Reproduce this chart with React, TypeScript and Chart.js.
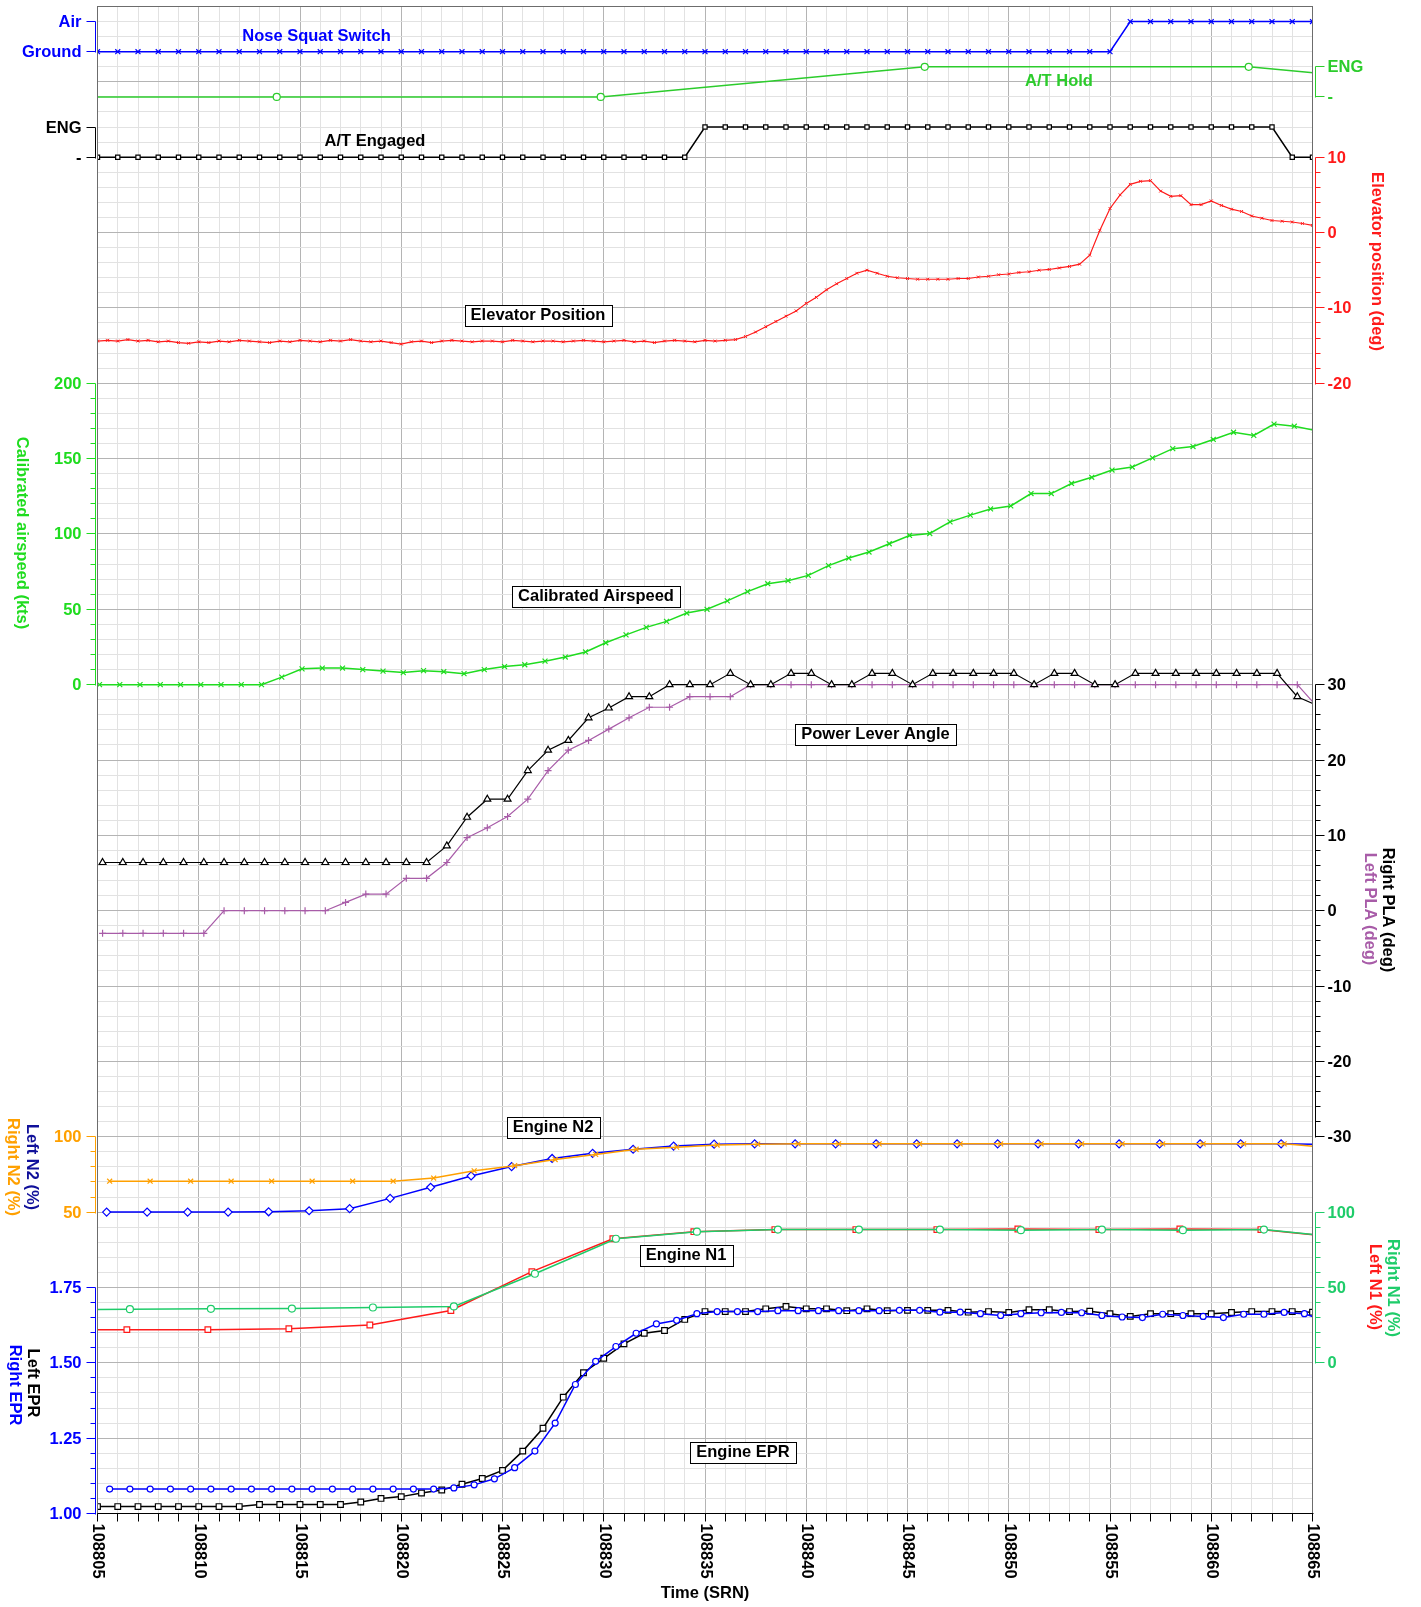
import React, { useEffect, useRef } from 'react';
import { Chart, registerables } from 'chart.js';

Chart.register(...registerables);

// ---------------- time axis ----------------
const T_START = 108805;
const T_END = 108865;
const X_TICK_LABELS = [108805, 108810, 108815, 108820, 108825, 108830, 108835, 108840, 108845, 108850, 108855, 108860, 108865];

// ---------------- series values ----------------
// Nose squat switch: 0 = Ground, 1 = Air ; one sample per second from T_START
const NOSE_SQUAT = [
  0, 0, 0, 0, 0, 0, 0, 0, 0, 0,
  0, 0, 0, 0, 0, 0, 0, 0, 0, 0,
  0, 0, 0, 0, 0, 0, 0, 0, 0, 0,
  0, 0, 0, 0, 0, 0, 0, 0, 0, 0,
  0, 0, 0, 0, 0, 0, 0, 0, 0, 0,
  0, 1, 1, 1, 1, 1, 1, 1, 1, 1, 1,
];
// A/T hold: 0 = '-', 1 = ENG ; one sample every 16 s
const AT_HOLD_TIMES = [108797.85, 108813.85, 108829.85, 108845.85, 108861.85, 108877.85];
const AT_HOLD = [0, 0, 0, 1, 1, 0];
// A/T engaged: 0 = '-', 1 = ENG ; one sample per second
const AT_ENGAGED = [
  0, 0, 0, 0, 0, 0, 0, 0, 0, 0,
  0, 0, 0, 0, 0, 0, 0, 0, 0, 0,
  0, 0, 0, 0, 0, 0, 0, 0, 0, 0,
  1, 1, 1, 1, 1, 1, 1, 1, 1, 1,
  1, 1, 1, 1, 1, 1, 1, 1, 1, 1,
  1, 1, 1, 1, 1, 1, 1, 1, 1, 0, 0,
];
// Elevator position (deg), every 0.5 s
const ELEVATOR = [
  -14.4, -14.3, -14.4, -14.2, -14.4, -14.3, -14.5, -14.4, -14.6, -14.7,
  -14.5, -14.6, -14.4, -14.5, -14.3, -14.4, -14.5, -14.6, -14.4, -14.5,
  -14.3, -14.4, -14.5, -14.3, -14.4, -14.2, -14.4, -14.5, -14.4, -14.6,
  -14.8, -14.5, -14.4, -14.6, -14.4, -14.3, -14.4, -14.5, -14.4, -14.4,
  -14.5, -14.3, -14.4, -14.5, -14.4, -14.4, -14.5, -14.4, -14.3, -14.4,
  -14.5, -14.4, -14.3, -14.5, -14.4, -14.6, -14.4, -14.3, -14.4, -14.5,
  -14.3, -14.4, -14.3, -14.2, -13.8, -13.2, -12.5, -11.8, -11.1, -10.4,
  -9.4, -8.6, -7.6, -6.8, -6.1, -5.4, -5.0, -5.4, -5.8, -6.0,
  -6.1, -6.2, -6.2, -6.2, -6.2, -6.1, -6.1, -5.9, -5.8, -5.6,
  -5.5, -5.3, -5.2, -5.0, -4.9, -4.7, -4.5, -4.2, -3.0, 0.3,
  3.2, 5.0, 6.4, 6.8, 6.9, 5.5, 4.8, 4.9, 3.7, 3.7,
  4.2, 3.6, 3.1, 2.8, 2.2, 1.9, 1.6, 1.5, 1.4, 1.2,
  0.95,
];
// Calibrated airspeed (kts), every 1 s
const AIRSPEED = [
  0, 0, 0, 0, 0, 0, 0, 0, 0, 5,
  10.5, 11, 11, 10, 9, 8, 9.3, 8.6, 7.3, 10,
  12, 13.2, 15.6, 18.3, 21.7, 27.8, 33, 38, 42, 47.5,
  50, 55.6, 61.7, 67, 69, 72.5, 79, 84, 88, 93.5,
  99, 100.3, 108, 112.5, 116.6, 118.6, 126.8, 126.8, 133.5, 137.6,
  142.4, 144.4, 150.5, 156.6, 158, 162.7, 167.5, 165.4, 172.9, 171.5,
  168.8,
];
// Power lever angles (deg), every 1 s (sampled 0.25 s after the second)
const PLA_RIGHT = [
  6.4, 6.4, 6.4, 6.4, 6.4, 6.4, 6.4, 6.4, 6.4, 6.4,
  6.4, 6.4, 6.4, 6.4, 6.4, 6.4, 6.4, 8.6, 12.4, 14.8,
  14.8, 18.6, 21.3, 22.6, 25.6, 26.9, 28.4, 28.4, 30, 30,
  30, 31.5, 30, 30, 31.5, 31.5, 30, 30, 31.5, 31.5,
  30, 31.5, 31.5, 31.5, 31.5, 31.5, 30, 31.5, 31.5, 30,
  30, 31.5, 31.5, 31.5, 31.5, 31.5, 31.5, 31.5, 31.5, 28.4,
  27.2,
];
const PLA_LEFT = [
  -3, -3, -3, -3, -3, -3, 0, 0, 0, 0,
  0, 0, 1.1, 2.2, 2.2, 4.3, 4.3, 6.4, 9.7, 11,
  12.5, 14.8, 18.6, 21.3, 22.6, 24.1, 25.6, 27, 27, 28.4,
  28.4, 28.4, 30, 30, 30, 30, 30, 30, 30, 30,
  30, 30, 30, 30, 30, 30, 30, 30, 30, 30,
  30, 30, 30, 30, 30, 30, 30, 30, 30, 30,
  27,
];
// Engine N2 (%), every 2 s
const N2_LEFT = [
  50, 50, 50, 50, 50.2, 50.9, 52.3, 59.1, 66.5, 74,
  80.2, 85.6, 89, 91.7, 93.8, 95.1, 95.3, 95.3, 95.3, 95.3,
  95.3, 95.3, 95.3, 95.3, 95.3, 95.3, 95.3, 95.3, 95.3, 95.3,
  95,
];
const N2_RIGHT = [
  70.5, 70.5, 70.5, 70.5, 70.5, 70.5, 70.5, 70.5, 72.6, 77.4,
  80.8, 84.9, 88.3, 91.7, 93.1, 94.5, 95.1, 95.3, 95.3, 95.3,
  95.3, 95.3, 95.3, 95.3, 95.3, 95.3, 95.3, 95.3, 95.3, 95.3,
  93,
];
// Engine N1 (%), every 4 s
const N1_RIGHT = [35, 35.6, 35.8, 36, 36.7, 37.4, 59.1, 82.3, 87, 88.4, 88.4, 88.4, 88.0, 88.4, 88.0, 88.4, 83];
const N1_LEFT = [22, 22, 22, 22.6, 25.1, 34.7, 60.5, 82.3, 87, 88.4, 88.4, 88.4, 88.8, 88.4, 88.8, 88.4, 83];
// Engine EPR, every 1 s
const EPR_LEFT = [
  1.023, 1.023, 1.023, 1.023, 1.023, 1.023, 1.023, 1.023, 1.030, 1.030,
  1.030, 1.030, 1.030, 1.038, 1.050, 1.056, 1.068, 1.078, 1.097, 1.116,
  1.143, 1.207, 1.283, 1.386, 1.467, 1.515, 1.563, 1.598, 1.607, 1.644,
  1.670, 1.670, 1.670, 1.679, 1.687, 1.679, 1.679, 1.673, 1.679, 1.673,
  1.674, 1.674, 1.674, 1.668, 1.670, 1.667, 1.676, 1.676, 1.670, 1.671,
  1.663, 1.654, 1.663, 1.663, 1.663, 1.663, 1.667, 1.670, 1.670, 1.670,
  1.668,
];
const EPR_RIGHT = [
  1.081, 1.081, 1.081, 1.081, 1.081, 1.081, 1.081, 1.081, 1.081, 1.081,
  1.081, 1.081, 1.081, 1.081, 1.081, 1.081, 1.081, 1.085, 1.095, 1.115,
  1.152, 1.207, 1.30, 1.428, 1.505, 1.554, 1.598, 1.629, 1.641, 1.663,
  1.670, 1.670, 1.670, 1.673, 1.673, 1.673, 1.673, 1.673, 1.673, 1.674,
  1.674, 1.668, 1.668, 1.663, 1.657, 1.663, 1.666, 1.667, 1.666, 1.657,
  1.652, 1.650, 1.661, 1.657, 1.654, 1.650, 1.661, 1.661, 1.667, 1.663,
  1.640,
];

// ---------------- axis tick labels ----------------
const SQUAT_TICKS = ['Ground', 'Air'];
const ENG_TICKS = ['-', 'ENG'];
const ELEV_TICKS = [-20, -10, 0, 10];
const SPEED_TICKS = [0, 50, 100, 150, 200];
const PLA_TICKS = [-30, -20, -10, 0, 10, 20, 30];
const N2_TICKS = [50, 100];
const N1_TICKS = [0, 50, 100];
const EPR_TICKS = [1.0, 1.25, 1.5, 1.75];

// ---------------- styling ----------------
const W = 1421;
const H = 1607;
const FONT = 'bold 16.5px "Liberation Sans", Arial, Helvetica, sans-serif';
const LINE_W = 1.5;
const BLUE = '#0000ff';
const NAVY = '#10109a';
const HOLD_GREEN = '#2ccc2c';
const SPEED_GREEN = '#1fdc1f';
const RED = '#ff1a1a';
const PURPLE = '#a85ca8';
const ORANGE = '#ffa000';
const N1_GREEN = '#1fcc6a';
const BLACK = '#000000';
const GRID_MAJOR = '#b4b4b4';
const GRID_MINOR = '#e2e2e2';
const BORDER = '#6c6c6c';

// vertical layout in grid units (20 major grid intervals top->bottom)
const GRID_UNITS = 20;
const PANELS: Record<string, [number, number, number, number]> = {
  // [value at upper position, upper unit, value at lower position, lower unit]
  ySquat: [1, 0.2, 0, 0.6],
  yHold: [1, 0.8, 0, 1.2],
  yEng: [1, 1.6, 0, 2.0],
  yElev: [10, 2, -20, 5],
  ySpd: [200, 5, 0, 9],
  yPla: [30, 9, -30, 15],
  yN2: [100, 15, 50, 16],
  yN1: [100, 16, 0, 18],
  yEpr: [1.75, 17, 1.0, 20],
};

function rangeFor(p: [number, number, number, number]) {
  const [vTop, uTop, vBot, uBot] = p;
  const per = (vTop - vBot) / (uBot - uTop);
  return { min: vBot - (GRID_UNITS - uBot) * per, max: vTop + uTop * per };
}

function series(values: number[], first: number, step: number) {
  return values.map((v, i) => ({ x: first + i * step, y: v }));
}
function seriesAt(times: number[], values: number[]) {
  return values.map((v, i) => ({ x: times[i], y: v }));
}

type NumAxis = {
  id: string; side: 'left' | 'right'; color: string;
  from: number; to: number; major: number; minor: number;
  labels: number[]; digits: number;
};
type CatAxis = { id: string; side: 'left' | 'right'; color: string; labels: string[] };

const NUM_AXES: NumAxis[] = [
  { id: 'yElev', side: 'right', color: RED, from: -20, to: 10, major: 10, minor: 2, labels: ELEV_TICKS, digits: 0 },
  { id: 'ySpd', side: 'left', color: SPEED_GREEN, from: 0, to: 200, major: 50, minor: 10, labels: SPEED_TICKS, digits: 0 },
  { id: 'yPla', side: 'right', color: BLACK, from: -30, to: 30, major: 10, minor: 2, labels: PLA_TICKS, digits: 0 },
  { id: 'yN2', side: 'left', color: ORANGE, from: 50, to: 100, major: 50, minor: 10, labels: N2_TICKS, digits: 0 },
  { id: 'yN1', side: 'right', color: N1_GREEN, from: 0, to: 100, major: 50, minor: 10, labels: N1_TICKS, digits: 0 },
  { id: 'yEpr', side: 'left', color: BLUE, from: 1.0, to: 1.75, major: 0.25, minor: 0.05, labels: EPR_TICKS, digits: 2 },
];
const CAT_AXES: CatAxis[] = [
  { id: 'ySquat', side: 'left', color: BLUE, labels: SQUAT_TICKS },
  { id: 'yEng', side: 'left', color: BLACK, labels: ENG_TICKS },
  { id: 'yHold', side: 'right', color: HOLD_GREEN, labels: ENG_TICKS },
];

const AXIS_TITLES = [
  { text: 'Calibrated airspeed (kts)', x: 21.5, y: 533, color: SPEED_GREEN },
  { text: 'Left N2 (%)', x: 32, y: 1167, color: NAVY },
  { text: 'Right N2 (%)', x: 13, y: 1167, color: ORANGE },
  { text: 'Left EPR', x: 33, y: 1383, color: BLACK },
  { text: 'Right EPR', x: 15, y: 1385, color: BLUE },
  { text: 'Elevator position (deg)', x: 1376.5, y: 261.5, color: RED },
  { text: 'Right PLA (deg)', x: 1388, y: 910, color: BLACK },
  { text: 'Left PLA (deg)', x: 1370, y: 909, color: PURPLE },
  { text: 'Right N1 (%)', x: 1393, y: 1288, color: N1_GREEN },
  { text: 'Left N1 (%)', x: 1375, y: 1287, color: RED },
];

const PANEL_LABELS = [
  { text: 'Nose Squat Switch', x: 316.5, y: 35.5, color: BLUE, boxed: false },
  { text: 'A/T Hold', x: 1059, y: 80.5, color: HOLD_GREEN, boxed: false },
  { text: 'A/T Engaged', x: 375, y: 141, color: BLACK, boxed: false },
  { text: 'Elevator Position', x: 538, y: 315, color: BLACK, boxed: true },
  { text: 'Calibrated Airspeed', x: 596, y: 596, color: BLACK, boxed: true },
  { text: 'Power Lever Angle', x: 875.5, y: 734, color: BLACK, boxed: true },
  { text: 'Engine N2', x: 553, y: 1127, color: BLACK, boxed: true },
  { text: 'Engine N1', x: 686, y: 1255, color: BLACK, boxed: true },
  { text: 'Engine EPR', x: 743, y: 1452, color: BLACK, boxed: true },
];

function px(v: number) {
  return Math.round(v - 0.5) + 0.5;
}

const fdrPlugin = {
  id: 'fdrDecor',
  afterDraw(chart: any) {
    const { ctx, chartArea: ca, scales } = chart;
    ctx.save();
    ctx.font = FONT;
    ctx.lineWidth = 1;

    // plot border
    ctx.strokeStyle = BORDER;
    ctx.strokeRect(px(ca.left), px(ca.top), Math.round(ca.right - ca.left), Math.round(ca.bottom - ca.top));
    ctx.strokeStyle = BLACK;
    ctx.beginPath();
    ctx.moveTo(px(ca.left), px(ca.bottom));
    ctx.lineTo(px(ca.right) + 1, px(ca.bottom));
    ctx.stroke();

    const leftLine = px(ca.left - 2);
    const rightLine = px(ca.right + 3);

    const drawAxis = (side: 'left' | 'right', color: string, yTop: number, yBot: number,
      ticks: { y: number; major: boolean; text?: string }[]) => {
      const lx = side === 'left' ? leftLine : rightLine;
      const dir = side === 'left' ? -1 : 1;
      ctx.strokeStyle = color;
      ctx.fillStyle = color;
      ctx.beginPath();
      ctx.moveTo(lx, yTop);
      ctx.lineTo(lx, yBot + 1);
      for (const t of ticks) {
        ctx.moveTo(lx, t.y);
        ctx.lineTo(lx + dir * (t.major ? 9 : 5), t.y);
      }
      ctx.stroke();
      ctx.textBaseline = 'middle';
      ctx.textAlign = side === 'left' ? 'right' : 'left';
      for (const t of ticks) {
        if (t.text === undefined) continue;
        const tx = side === 'left' ? lx - 14 : lx + 12;
        ctx.fillText(t.text, tx, t.y + 0.5);
      }
    };

    for (const a of NUM_AXES) {
      const s = scales[a.id];
      const n = Math.round((a.to - a.from) / a.minor);
      const ticks: { y: number; major: boolean; text?: string }[] = [];
      for (let i = 0; i <= n; i++) {
        const v = a.from + i * a.minor;
        const isLabel = a.labels.some((l) => Math.abs(l - v) < 1e-9);
        ticks.push({ y: px(s.getPixelForValue(v)), major: isLabel, text: isLabel ? v.toFixed(a.digits) : undefined });
      }
      drawAxis(a.side, a.color, px(s.getPixelForValue(a.to)), px(s.getPixelForValue(a.from)), ticks);
    }
    for (const a of CAT_AXES) {
      const s = scales[a.id];
      const ticks = a.labels.map((t, i) => ({ y: px(s.getPixelForValue(i)), major: true, text: t }));
      drawAxis(a.side, a.color, px(s.getPixelForValue(a.labels.length - 1)), px(s.getPixelForValue(0)), ticks);
    }

    // x axis ticks and labels
    const xs = scales.x;
    ctx.strokeStyle = BLACK;
    ctx.fillStyle = BLACK;
    ctx.beginPath();
    for (let t = T_START; t <= T_END; t++) {
      const x = px(xs.getPixelForValue(t));
      ctx.moveTo(x, px(ca.bottom));
      ctx.lineTo(x, px(ca.bottom) + 8);
    }
    ctx.stroke();
    for (const t of X_TICK_LABELS) {
      const x = xs.getPixelForValue(t);
      ctx.save();
      ctx.translate(x + 0.5, ca.bottom + 10);
      ctx.rotate(Math.PI / 2);
      ctx.textAlign = 'left';
      ctx.textBaseline = 'middle';
      ctx.fillText(String(t), 0, 0);
      ctx.restore();
    }
    ctx.textAlign = 'center';
    ctx.textBaseline = 'middle';
    ctx.fillText('Time (SRN)', 705, 1593);

    // rotated axis titles
    for (const t of AXIS_TITLES) {
      ctx.save();
      ctx.translate(t.x, t.y);
      ctx.rotate(Math.PI / 2);
      ctx.fillStyle = t.color;
      ctx.textAlign = 'center';
      ctx.textBaseline = 'middle';
      ctx.fillText(t.text, 0, 0);
      ctx.restore();
    }

    // panel labels
    for (const l of PANEL_LABELS) {
      ctx.textAlign = 'center';
      ctx.textBaseline = 'middle';
      if (l.boxed) {
        const w = Math.round(ctx.measureText(l.text).width + 12);
        const h = 21;
        const x0 = Math.round(l.x - w / 2) + 0.5;
        const y0 = Math.round(l.y - h / 2) + 0.5;
        ctx.fillStyle = '#ffffff';
        ctx.fillRect(x0, y0, w, h);
        ctx.strokeStyle = BLACK;
        ctx.strokeRect(x0, y0, w, h);
      }
      ctx.fillStyle = l.color;
      ctx.fillText(l.text, l.x, l.y + 0.5);
    }
    ctx.restore();
  },
};

function line(label: string, data: any[], yAxisID: string, color: string, pointStyle: string, radius: number, hollow: boolean, order: number, extra: any = {}) {
  return {
    label,
    data,
    xAxisID: 'x',
    yAxisID,
    borderColor: color,
    borderWidth: LINE_W,
    pointStyle,
    pointRadius: radius,
    pointBorderColor: color,
    pointBackgroundColor: hollow ? '#ffffff' : color,
    pointBorderWidth: 1.2,
    tension: 0,
    fill: false,
    order,
    ...extra,
  };
}

export default function App() {
  const ref = useRef<HTMLCanvasElement | null>(null);

  useEffect(() => {
    document.body.style.margin = '0';
    document.body.style.overflow = 'hidden';
    const canvas = ref.current;
    if (!canvas) return;

    const yScales: Record<string, any> = {};
    for (const id of Object.keys(PANELS)) {
      const r = rangeFor(PANELS[id]);
      yScales[id] = { type: 'linear', display: false, min: r.min, max: r.max };
    }

    const datasets = [
      line('Nose Squat Switch', series(NOSE_SQUAT, T_START, 1), 'ySquat', BLUE, 'crossRot', 3.5, false, 1),
      line('A/T Hold', seriesAt(AT_HOLD_TIMES, AT_HOLD), 'yHold', HOLD_GREEN, 'circle', 3.5, true, 2),
      line('A/T Engaged', series(AT_ENGAGED, T_START, 1), 'yEng', BLACK, 'rect', 3, true, 3),
      line('Elevator Position', series(ELEVATOR, T_START, 0.5), 'yElev', RED, 'crossRot', 2, false, 4, { borderWidth: 1.2, pointBorderWidth: 1 }),
      line('Calibrated Airspeed', series(AIRSPEED, T_START + 0.1, 1), 'ySpd', SPEED_GREEN, 'crossRot', 3.5, false, 5),
      line('Right PLA', series(PLA_RIGHT, T_START + 0.25, 1), 'yPla', BLACK, 'triangle', 4, true, 6, { borderWidth: 1.2 }),
      line('Left PLA', series(PLA_LEFT, T_START + 0.25, 1), 'yPla', PURPLE, 'cross', 3.5, false, 7, { borderWidth: 1.2 }),
      line('Right N2', series(N2_RIGHT, T_START + 0.6, 2), 'yN2', ORANGE, 'crossRot', 3.5, false, 8),
      line('Left N2', series(N2_LEFT, T_START + 0.45, 2), 'yN2', BLUE, 'rectRot', 4, true, 9),
      line('Right N1', series(N1_RIGHT, T_START - 2.4, 4), 'yN1', N1_GREEN, 'circle', 3.5, true, 10),
      line('Left N1', series(N1_LEFT, T_START - 2.55, 4), 'yN1', RED, 'rect', 4, true, 11),
      line('Right EPR', series(EPR_RIGHT, T_START + 0.6, 1), 'yEpr', BLUE, 'circle', 3, true, 12),
      line('Left EPR', series(EPR_LEFT, T_START, 1), 'yEpr', BLACK, 'rect', 4, true, 13),
    ];

    const chart = new Chart(canvas, {
      type: 'line',
      data: { datasets: datasets as any },
      options: {
        animation: false,
        responsive: false,
        maintainAspectRatio: false,
        devicePixelRatio: 1,
        events: [],
        layout: { padding: { left: 97.5, right: W - 1312.5, top: 6.5, bottom: H - 1513.5 } },
        plugins: { legend: { display: false }, tooltip: { enabled: false }, title: { display: false } },
        scales: {
          x: {
            type: 'linear',
            position: 'bottom',
            min: T_START,
            max: T_END,
            ticks: { display: false, stepSize: 1, maxTicksLimit: 1000, autoSkip: false },
            grid: {
              drawTicks: false,
              lineWidth: 1,
              color: (c: any) => (c.tick && Math.round(c.tick.value) % 5 === 0 ? GRID_MAJOR : GRID_MINOR),
            },
            border: { display: false },
          },
          yGrid: {
            type: 'linear',
            position: 'left',
            min: 0,
            max: GRID_UNITS * 5,
            reverse: true,
            ticks: { display: false, stepSize: 1, maxTicksLimit: 1000 },
            grid: {
              drawTicks: false,
              lineWidth: 1,
              color: (c: any) => (c.tick && Math.round(c.tick.value) % 5 === 0 ? GRID_MAJOR : GRID_MINOR),
            },
            border: { display: false },
          },
          ...yScales,
        },
      } as any,
      plugins: [fdrPlugin],
    });

    return () => chart.destroy();
  }, []);

  return (
    <div style={{ width: W, height: H, background: '#ffffff' }}>
      <canvas ref={ref} width={W} height={H} style={{ display: 'block', width: W, height: H }} />
    </div>
  );
}
